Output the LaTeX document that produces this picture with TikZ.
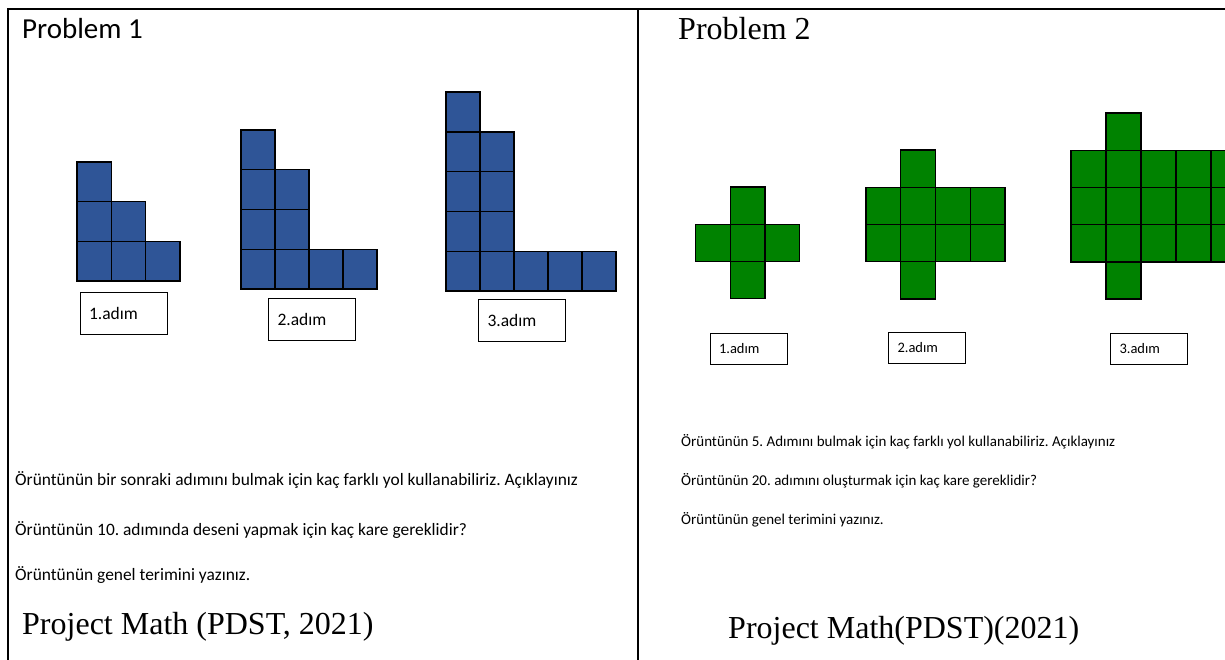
\documentclass[tikz,border=0pt]{standalone}
\usepackage{fontspec}
\setmainfont{Liberation Serif}
\newfontfamily\calfont{Carlito}
\definecolor{sqblue}{RGB}{47,85,151}
\definecolor{sqgreen}{RGB}{0,130,0}
\frenchspacing
\begin{document}
\begin{tikzpicture}[x=1pt,y=-1pt,
  bsq/.style={fill=sqblue,draw=black,line width=1.4pt},
  gsq/.style={fill=sqgreen,draw=black,line width=1.4pt},
  lblA/.style={draw=black,line width=0.8pt,inner xsep=9pt,inner ysep=0pt,minimum height=42pt,text width=69pt,align=left,font=\calfont\fontsize{17.5}{20}\selectfont},
  lblB/.style={draw=black,line width=0.8pt,inner xsep=9pt,inner ysep=0pt,minimum height=31pt,text width=59pt,align=left,font=\calfont\fontsize{14.5}{17}\selectfont},
  framel/.style={line width=2pt},
  qA/.style={anchor=base west,inner sep=0pt,font=\calfont\fontsize{17.4}{20}\selectfont},
  qB/.style={anchor=base west,inner sep=0pt,font=\calfont\fontsize{15}{18}\selectfont},
  ref/.style={anchor=base west,inner sep=0pt,font=\fontsize{32}{36}\selectfont}]
\useasboundingbox (0,0) rectangle (1225,659);
\clip (0,0) rectangle (1225,659);
% frame
\draw[framel] (7,9) -- (1230,9);
\draw[framel] (8,8) -- (8,665);
\draw[framel] (638,8) -- (638,665);
% titles
\node[anchor=base west,inner sep=0pt,font=\calfont\fontsize{29}{33}\selectfont] (p1) at (22,38) {Problem 1};
\node[anchor=base west,inner sep=0pt,font=\fontsize{32}{36}\selectfont] (p2) at (678,39) {Problem 2};
% blue pattern step 1
\foreach \i/\j in {0/0,1/0,2/0,0/1,1/1,0/2}
  \draw[bsq] ({77+\i*34.3},{281-\j*39.7}) rectangle ++(34.3,-39.7);
% step 2
\foreach \i/\j in {0/0,1/0,2/0,3/0,0/1,1/1,0/2,1/2,0/3}
  \draw[bsq] ({241+\i*34},{289-\j*39.75}) rectangle ++(34,-39.75);
% step 3
\foreach \i/\j in {0/0,1/0,2/0,3/0,4/0,0/1,1/1,0/2,1/2,0/3,1/3,0/4}
  \draw[bsq] ({446+\i*34},{291-\j*39.8}) rectangle ++(34,-39.8);
% labels problem 1
\node[lblA] (a1) at (123.5,313) {1.adım};
\node[lblA] (a2) at (312,319.5) {2.adım};
\node[lblA] (a3) at (522,320) {3.adım};
% green step 1
\foreach \i/\j in {1/0,0/1,1/1,2/1,1/2}
  \draw[gsq] ({695.5+\i*34.7},{187+\j*37.2}) rectangle ++(34.7,37.2);
% green step 2
\foreach \i/\j in {1/0,0/1,1/1,2/1,3/1,0/2,1/2,2/2,3/2,1/3}
  \draw[gsq] ({866+\i*34.75},{150+\j*37.25}) rectangle ++(34.75,37.25);
% green step 3
\foreach \i/\j in {1/0,0/1,1/1,2/1,3/1,4/1,0/2,1/2,2/2,3/2,4/2,0/3,1/3,2/3,3/3,4/3,1/4}
  \draw[gsq] ({1071+\i*35},{113+\j*37.2}) rectangle ++(35,37.2);
% labels problem 2
\node[lblB] (b1) at (748.5,348.5) {1.adım};
\node[lblB] (b2) at (927,347.5) {2.adım};
\node[lblB] (b3) at (1149,348.5) {3.adım};
% questions problem 1
\node[qA] (qa1) at (15,485) {Örüntünün bir sonraki adımını bulmak için kaç farklı yol kullanabiliriz. Açıklayınız};
\node[qA] (qa2) at (15,535) {Örüntünün 10. adımında deseni yapmak için kaç kare gereklidir?};
\node[qA] (qa3) at (15,580) {Örüntünün genel terimini yazınız.};
\node[ref] (ra) at (22,634) {Project Math (PDST, 2021)};
% questions problem 2
\node[qB] (qb1) at (681,446) {Örüntünün 5. Adımını bulmak için kaç farklı yol kullanabiliriz. Açıklayınız};
\node[qB] (qb2) at (681,485) {Örüntünün 20. adımını oluşturmak için kaç kare gereklidir?};
\node[qB] (qb3) at (681,524) {Örüntünün genel terimini yazınız.};
\node[ref] (rb) at (728,638) {Project Math(PDST)(2021)};
\end{tikzpicture}
\end{document}
